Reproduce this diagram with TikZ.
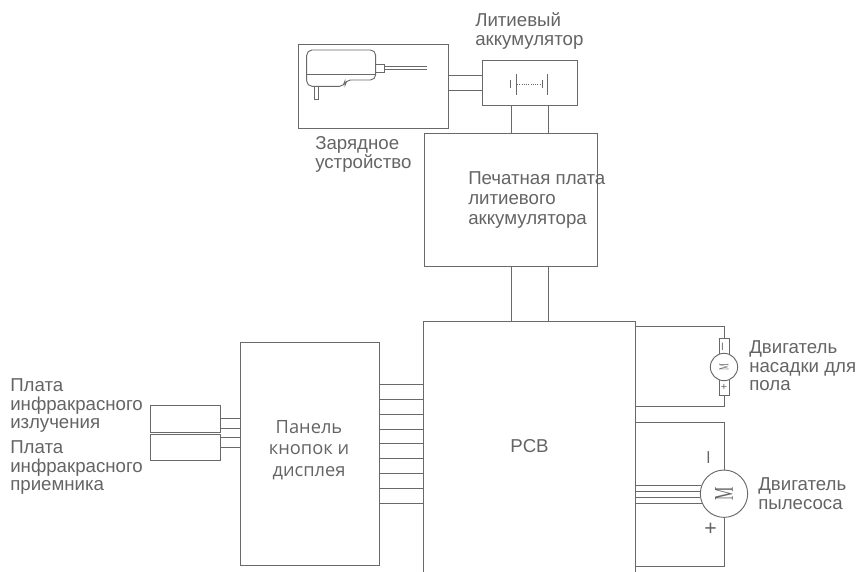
\documentclass[tikz,border=0pt]{standalone}
\usepackage{fontspec}
\setmainfont{Liberation Sans}
\newfontfamily\panelfont{Open Sans}
\newfontfamily\motorfont{Liberation Serif}
\definecolor{linegray}{RGB}{105,105,105}
\definecolor{textgray}{RGB}{100,100,100}
\tikzset{
	wire/.style={draw=linegray, line width=0.7pt},
	blockbox/.style={draw=linegray, line width=0.7pt, inner sep=0pt},
	hollowbox/.style={inner sep=0pt},
	caption/.style={font=\fontsize{14}{14.2}\selectfont, text=textgray, anchor=north west, align=left, inner sep=0pt},
	polarity/.style={text=textgray, inner sep=0pt},
}
\begin{document}
\begin{tikzpicture}[x=0.75pt, y=-0.75pt]
	\useasboundingbox (0,0) rectangle (858,572);

	% Blocks
	\node[blockbox, minimum width=112.2pt, minimum height=63.5pt] (charger) at (373.25,86.35) {};
	\node[blockbox, minimum width=71.25pt, minimum height=33.75pt] (battery) at (529.5,82.5) {};
	\node[blockbox, minimum width=129.75pt, minimum height=99.75pt] (lionboard) at (510.5,199.5) {};
	\node[hollowbox, minimum width=158.25pt, minimum height=187.5pt] (pcb) at (529.5,447) {};
	\node[blockbox, minimum width=104.25pt, minimum height=167.25pt] (panel) at (309.5,453.5) {};
	\node[blockbox, minimum width=52.5pt, minimum height=20.25pt] (irsender) at (185,418.5) {};
	\node[blockbox, minimum width=52.5pt, minimum height=19.5pt] (irreceiver) at (185,447) {};
	\draw[wire] (pcb.south west) -- (pcb.north west) -- (pcb.north east) -- (pcb.south east);

	% Charger - battery - board - PCB
	\foreach \wy in {75,90}
		\draw[wire] (charger.east |- 0,\wy) -- (battery.west |- 0,\wy);
	\foreach \wx in {511,548} {
		\draw[wire] (\wx,0 |- battery.south) -- (\wx,0 |- lionboard.north);
		\draw[wire] (\wx,0 |- lionboard.south) -- (\wx,0 |- pcb.north);
	}

	% Panel wires
	\foreach \wy in {384.3,399.3,414.3,429,443.7,458.7,473.7,488.3,503.3}
		\draw[wire] (panel.east |- 0,\wy) -- (pcb.west |- 0,\wy);
	\foreach \wy in {418.3,428}
		\draw[wire] (irsender.east |- 0,\wy) -- (panel.west |- 0,\wy);
	\foreach \wy in {437,447.7}
		\draw[wire] (irreceiver.east |- 0,\wy) -- (panel.west |- 0,\wy);

	% Charger picture
	\draw[wire, rounded corners=4pt] (345,80) -- (345,86.3) -- (306.7,86.3) -- (306.7,50) -- (375.7,50) -- (375.7,80) -- cycle;
	\draw[wire] (306.7,74.7) -- (375.7,74.7);
	\draw[wire] (314.7,86.3) -- (314.7,99) -- (318.7,99) -- (318.7,86.3);
	\draw[wire] (375.7,64) -- (384,64) -- (384,72.3) -- (375.7,72.3);
	\draw[wire] (384,66.3) -- (427.3,66.3);
	\draw[wire] (384,69) -- (427.3,69);

	% Battery symbol
	\draw[wire] (510.3,80) -- (510.3,88.3);
	\draw[wire, line width=1pt] (516.7,74) -- (516.7,94.7);
	\draw[wire, densely dotted] (517,84) -- (542,84);
	\draw[wire] (542,80) -- (542,88.3);
	\draw[wire, line width=1pt] (547.3,74) -- (547.3,94.7);

	% Floor motor
	\node[blockbox, minimum width=7.5pt, minimum height=42.75pt] (floorcase) at (724,366.5) {};
	\node[blockbox, circle, fill=white, minimum size=20.5pt] (floormotor) at (724,367) {};
	\node[font=\motorfont\fontsize{7}{7}\selectfont, text=textgray, rotate=90, inner sep=0pt] (floorm) at (floormotor) {\scalebox{0.8}[1.45]{M}};
	\node[polarity, font=\fontsize{10}{10}\selectfont, rotate=90] (floorminus) at (724,347) {–};
	\node[polarity, font=\fontsize{8}{8}\selectfont] (floorplus) at (724,387) {+};
	\draw[wire] (floorcase.north) |- (pcb.east |- 0,326);
	\draw[wire] (floorcase.south) |- (pcb.east |- 0,406.7);

	% Vacuum motor
	\node[blockbox, circle, minimum size=35.5pt] (vacmotor) at (724,493.7) {};
	\node[font=\motorfont\fontsize{14}{14}\selectfont, text=textgray, rotate=90, inner sep=0pt] (vacm) at (vacmotor) {\scalebox{0.8}[1.45]{M}};
	\draw[wire] (vacmotor.north) |- (pcb.east |- 0,422);
	\draw[wire] (vacmotor.south) |- (pcb.east |- 0,566);
	\foreach \wa in {160,174.4,189,203.3}
		\draw[wire] (vacmotor.\wa) -- (vacmotor.\wa -| pcb.east);
	\node[polarity, font=\fontsize{16}{16}\selectfont, rotate=90] (vacminus) at (710.7,458) {–};
	\node[polarity, font=\fontsize{16}{16}\selectfont] (vacplus) at (710.7,529) {+};

	% Labels
	\node[caption] (batterytext) at (475,12.5) {Литиевый\\аккумулятор};
	\node[caption] (chargertext) at (315,136) {Зарядное\\устройство};
	\node[caption, font=\fontsize{14}{15}\selectfont] (boardtext) at (468,171) {Печатная плата\\литиевого\\аккумулятора};
	\node[caption] (floortext) at (749,340) {Двигатель\\насадки для\\пола};
	\node[caption] (vactext) at (758,477) {Двигатель\\пылесоса};
	\node[caption] (sendertext) at (10,378) {Плата\\инфракрасного\\излучения};
	\node[caption] (receivertext) at (10,440) {Плата\\инфракрасного\\приемника};
	\node[caption, font=\panelfont\fontsize{13.7}{16}\selectfont, anchor=center, align=center] (paneltext) at (309,450) {Панель\\кнопок и\\дисплея};
	\node[caption, anchor=center] (pcbtext) at (529.5,446) {PCB};
\end{tikzpicture}
\end{document}
